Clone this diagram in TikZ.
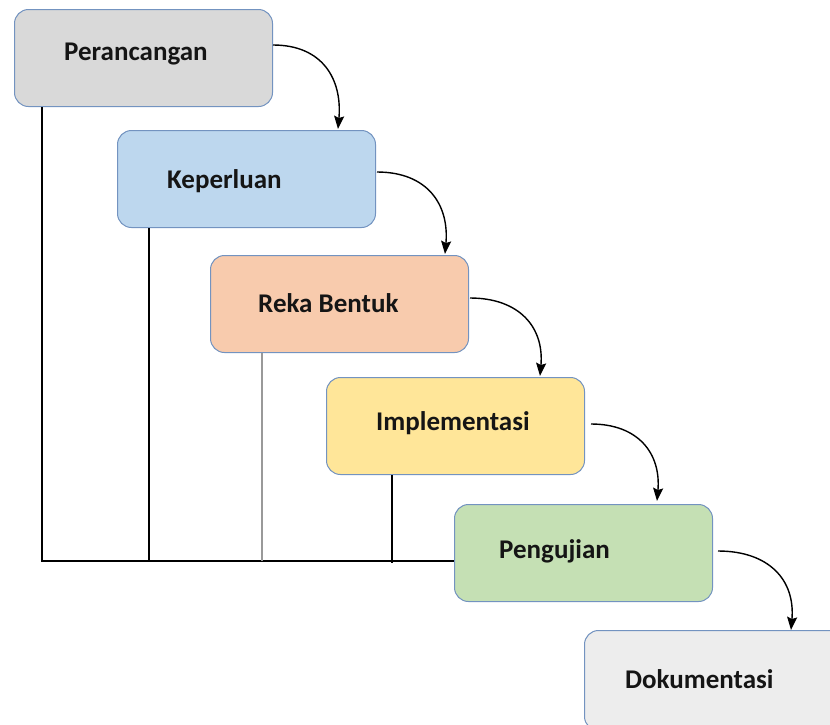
\documentclass[tikz,border=0pt]{standalone}
\usepackage{fontspec}
\setmainfont{Carlito}
\usetikzlibrary{arrows.meta,calc}
\definecolor{edgeblue}{HTML}{7393C0}
\definecolor{cgrey}{HTML}{D9D9D9}
\definecolor{cblue}{HTML}{BDD7EE}
\definecolor{corange}{HTML}{F8CBAD}
\definecolor{cyellow}{HTML}{FFE699}
\definecolor{cgreen}{HTML}{C5E0B4}
\definecolor{clight}{HTML}{EDEDED}
\definecolor{txt}{HTML}{151515}
\tikzset{
  stage/.style={draw=edgeblue, line width=1pt, rounded corners=14pt,
    minimum width=258pt, minimum height=97pt, inner sep=0pt, anchor=north west},
  label/.style={anchor=west, inner sep=0pt, font=\fontsize{27}{30}\selectfont\bfseries, text=txt},
  flow/.style={line width=1.4pt, -{Stealth[length=13pt,width=10pt,inset=2pt]}},
  bar/.style={line width=1.2pt, black}
}
\begin{document}
\begin{tikzpicture}[x=1pt,y=-1pt]
\clip (0,0) rectangle (830,724);
\fill[white] (0,0) rectangle (830,724);
% boxes
\node[stage, fill=cgrey]   (b1) at (14,9)   {};
\node[stage, fill=cblue]   (b2) at (117,130) {};
\node[stage, fill=corange] (b3) at (210,255) {};
\node[stage, fill=cyellow] (b4) at (326,377) {};
\node[stage, fill=cgreen]  (b5) at (454,504) {};
\node[stage, fill=clight, minimum height=100pt] (b6) at (584,630) {};
% texts
\node[label] (t1) at (64,54)   {Perancangan};
\node[label] (t2) at (167,181) {Keperluan};
\node[label] (t3) at (258,303) {Reka Bentuk};
\node[label] (t4) at (376,423) {Implementasi};
\node[label] (t5) at (499,551) {Pengujian};
\node[label] (t6) at (625,679) {Dokumentasi};
% flow arrows
\coordinate (a1) at (273,45);  \coordinate (e1) at (338,129);
\coordinate (a2) at (377,172); \coordinate (e2) at (445,254);
\coordinate (a3) at (470,298); \coordinate (e3) at (540,376);
\coordinate (a4) at (591,424); \coordinate (e4) at (657,501);
\coordinate (a5) at (718,551); \coordinate (e5) at (791,630);
\draw[flow] (a1) to[out=0,in=85,looseness=1.2] (e1);
\draw[flow] (a2) to[out=0,in=85,looseness=1.2] (e2);
\draw[flow] (a3) to[out=0,in=85,looseness=1.2] (e3);
\draw[flow] (a4) to[out=0,in=85,looseness=1.2] (e4);
\draw[flow] (a5) to[out=0,in=85,looseness=1.2] (e5);
% feedback lines
\coordinate (base) at (42,561);
\coordinate (p1) at ($(b1.south west)+(28,0)$);
\coordinate (p2) at ($(b2.south west)+(32,0)$);
\coordinate (p3) at ($(b3.south west)+(52,0)$);
\coordinate (p4) at ($(b4.south west)+(66,0)$);
\draw[bar] (p1) -- (p1 |- base) -- (b5.west |- base);
\draw[bar] (p2) -- (p2 |- base);
\draw[line width=1.3pt, black!40] (p3) -- (p3 |- base);
\draw[bar] (p4) -- ($(p4 |- base)+(0,2)$);
\end{tikzpicture}
\end{document}
